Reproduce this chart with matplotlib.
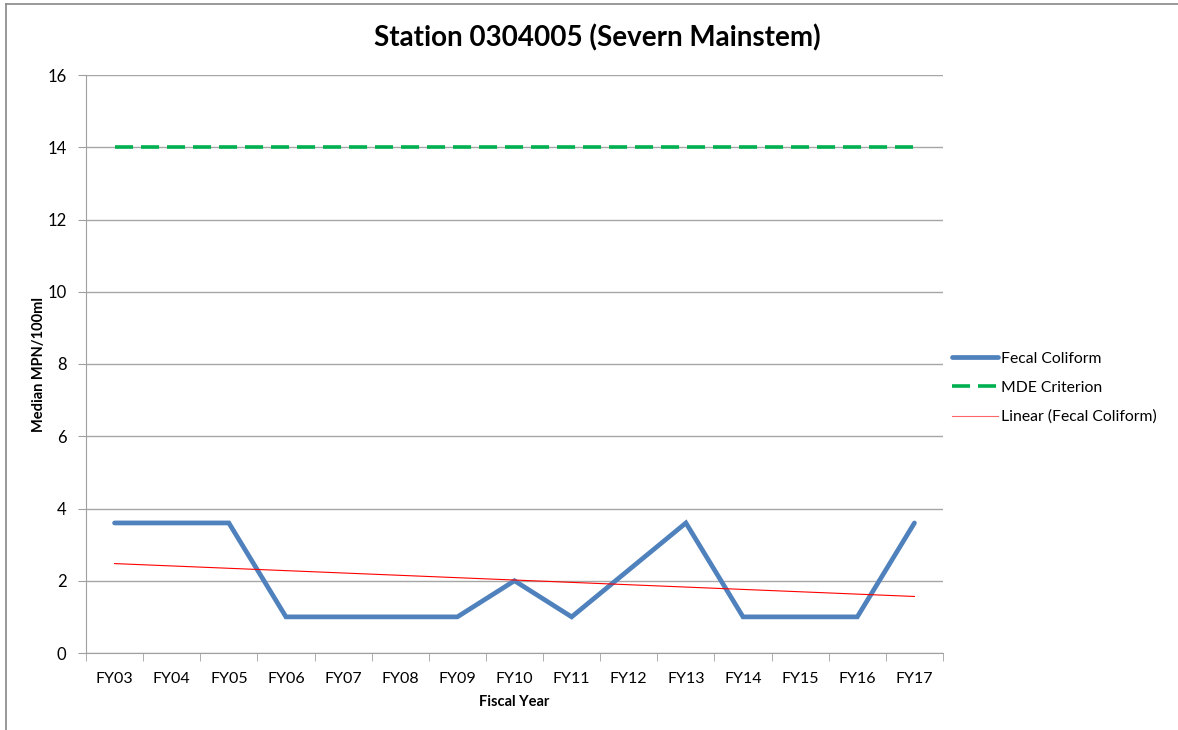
import numpy as np
import matplotlib.pyplot as plt
from matplotlib.lines import Line2D

years = ["FY03", "FY04", "FY05", "FY06", "FY07", "FY08", "FY09", "FY10",
         "FY11", "FY12", "FY13", "FY14", "FY15", "FY16", "FY17"]
fecal = [3.6, 3.6, 3.6, 1, 1, 1, 1, 2, 1, 2.3, 3.6, 1, 1, 1, 3.6]
criterion = [14] * len(years)

plt.rcParams['font.family'] = ['Lato', 'DejaVu Sans']

fig = plt.figure(figsize=(11.78, 7.3), dpi=100)
ax = fig.add_axes([86 / 1178, 1 - 653 / 730, (943 - 86) / 1178, (653 - 75) / 730])

x = np.arange(len(years))
# linear trendline like Excel's
slope, icpt = np.polyfit(x, fecal, 1)
trend = slope * x + icpt

ax.plot(x, fecal, color="#4F81BD", lw=3.4, solid_joinstyle="miter",
        solid_capstyle="round", label="Fecal Coliform", zorder=3)
ax.plot(x, criterion, color="#00B050", lw=2.6, dashes=(5, 2.2),
        label="MDE Criterion", zorder=3)
ax.plot(x, trend, color="#FF0000", lw=0.8, label="Linear (Fecal Coliform)", zorder=4)

ax.set_xlim(-0.5, len(years) - 0.5)
ax.set_ylim(0, 16)
ax.set_yticks(range(0, 17, 2))
ax.set_xticks(x)
ax.set_xticklabels(years)
ax.set_xticks(np.arange(-0.5, len(years)), minor=True)
ax.tick_params(axis="x", which="major", length=0, pad=14, labelsize=11.5)
ax.tick_params(axis="x", which="minor", length=6, color="#A0A0A0", direction="out")
ax.tick_params(axis="y", length=6, color="#A0A0A0", labelsize=12, pad=8)
ax.grid(axis="y", color="#A6A6A6", lw=1)
ax.set_axisbelow(True)
for s in ["top", "right"]:
    ax.spines[s].set_visible(False)
for s in ["left", "bottom"]:
    ax.spines[s].set_color("#A0A0A0")

ax.set_xlabel("Fiscal Year", fontweight="bold", fontsize=10.5, labelpad=6)
ax.set_ylabel("Median MPN/100ml", fontweight="bold", fontsize=10.5)
ax.yaxis.set_label_coords((46 - 86) / 857, 0.5)

fig.text(597 / 1178, 1 - 38 / 730, "Station 0304005 (Severn Mainstem)",
         ha="center", va="center", fontsize=20, fontweight="bold")

handles = [Line2D([], [], color="#4F81BD", lw=3.4, solid_capstyle="round"),
           Line2D([], [], color="#00B050", lw=2.6, dashes=(5, 2.2)),
           Line2D([], [], color="#FF0000", lw=0.8, alpha=0.6)]
fig.legend(handles, ["Fecal Coliform", "MDE Criterion", "Linear (Fecal Coliform)"],
           loc="center left", bbox_to_anchor=(938 / 1178, 1 - 388 / 730),
           frameon=False, fontsize=11.3, handlelength=2.9, handletextpad=0.2,
           labelspacing=0.95)

# outer chart border (only left/top visible in the crop)
fig.add_artist(Line2D([6 / 1178, 6 / 1178], [0, 1 - 4 / 730], color="#888888", lw=1.2))
fig.add_artist(Line2D([6 / 1178, 1], [1 - 4 / 730, 1 - 4 / 730], color="#888888", lw=1.2))

fig.savefig("out.png", dpi=100)
